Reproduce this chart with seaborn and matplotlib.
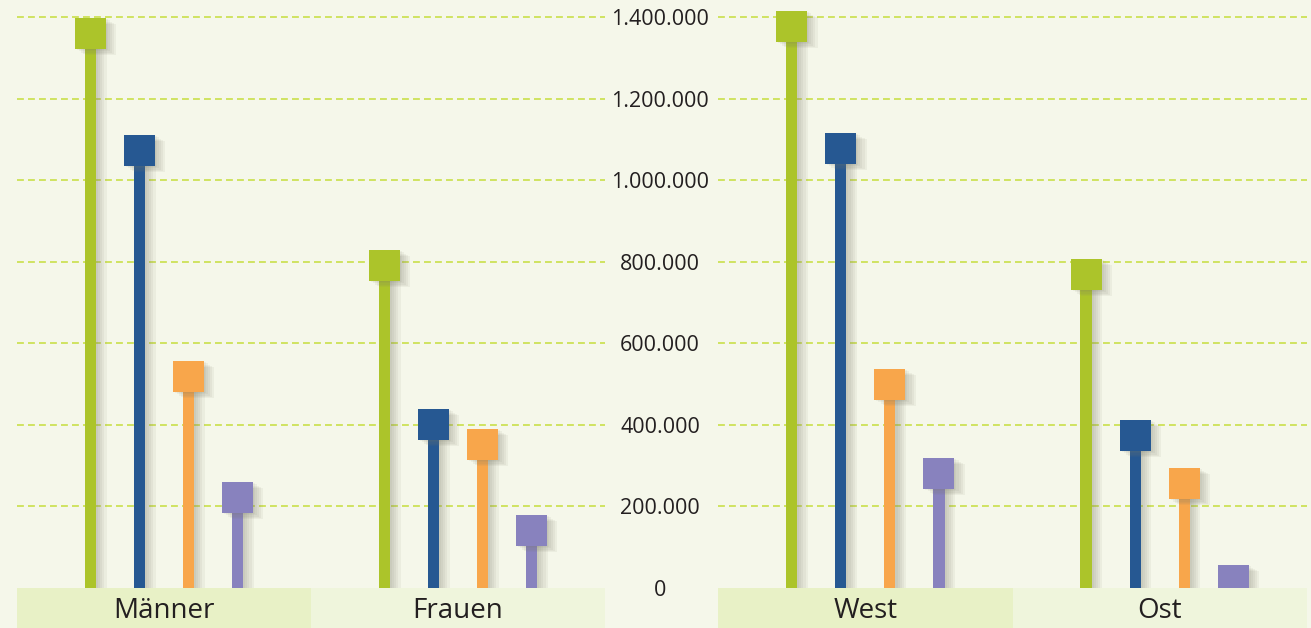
import matplotlib
matplotlib.use("Agg")
import matplotlib.pyplot as plt
import matplotlib.patheffects as pe
from matplotlib.path import Path
from matplotlib.patches import Rectangle
from matplotlib.ticker import FuncFormatter
import matplotlib.transforms as mtransforms
import pandas as pd
import seaborn as sns

# data
gruppen_links = ["Männer", "Frauen"]
gruppen_rechts = ["West", "Ost"]
reihen = ["Reihe 1", "Reihe 2", "Reihe 3", "Reihe 4"]
# values per series, order: Männer, Frauen, West, Ost
reihe_gruen = [1398000, 829000, 1415000, 807000]
reihe_blau = [1111000, 439000, 1116000, 412000]
reihe_orange = [557000, 390000, 537000, 294000]
reihe_lila = [260000, 179000, 319000, 56000]
y_ticks = [0, 200000, 400000, 600000, 800000, 1000000, 1200000, 1400000]

farben = ["#acc42a", "#265892", "#f8a64b", "#8882be"]
bg = "#f5f7ea"
box_farben = ["#e8f1c6", "#eff5dc"]
grid_farbe = "#c6dd3c"
text_farbe = "#231f20"

sns.set_style("white")
plt.rcParams["font.family"] = ["Open Sans", "DejaVu Sans"]

werte = [reihe_gruen, reihe_blau, reihe_orange, reihe_lila]
alle_gruppen = gruppen_links + gruppen_rechts
rows = []
for name, vals in zip(reihen, werte):
    for g, v in zip(alle_gruppen, vals):
        rows.append({"gruppe": g, "reihe": name, "wert": v})
df = pd.DataFrame(rows)

W, H = 1311, 628
fig = plt.figure(figsize=(W / 100, H / 100), dpi=100, facecolor=bg)
y0 = 588  # pixel row of the zero line
ymax = y0 * 1400000 / 571

ax_l = fig.add_axes([17 / W, (H - y0) / H, 588 / W, y0 / H])
ax_r = fig.add_axes([718 / W, (H - y0) / H, 589 / W, y0 / H])

square = Path([(-1, 0), (1, 0), (1, -2), (-1, -2), (-1, 0)],
              [Path.MOVETO, Path.LINETO, Path.LINETO, Path.LINETO, Path.CLOSEPOLY])
schatten = [pe.SimplePatchShadow(offset=(o, -o * 0.6), shadow_rgbFace="#7a7a6a", alpha=0.08)
            for o in (1.5, 3, 4.5, 6, 7.5)] + [pe.Normal()]

for ax, gruppen in ((ax_l, gruppen_links), (ax_r, gruppen_rechts)):
    ax.set_facecolor(bg)
    sub = df[df.gruppe.isin(gruppen)]
    sns.barplot(data=sub, x="gruppe", y="wert", hue="reihe", order=gruppen,
                hue_order=reihen, palette=farben, saturation=1, errorbar=None,
                width=0.667, gap=0.77, linewidth=0, legend=False, ax=ax, zorder=3)
    xs, ys, cs = [], [], []
    for p in ax.patches:
        p.set_path_effects(schatten)
        xs.append(p.get_x() + p.get_width() / 2)
        ys.append(p.get_height())
        cs.append(p.get_facecolor())
    sc = ax.scatter(xs, ys, s=1993, marker=square, c=cs, linewidths=0, zorder=4)
    sc.set_path_effects(schatten)

    ax.set_xlim(-0.5, 1.5)
    ax.set_ylim(0, ymax)
    ax.set_yticks(y_ticks)
    ax.grid(axis="y", color=grid_farbe, linewidth=1.1, linestyle=(0, (4.5, 2.7)), zorder=1)
    ax.yaxis.get_gridlines()[0].set_visible(False)
    ax.set_axisbelow(True)
    sns.despine(ax=ax, left=True, bottom=True)
    ax.set_xlabel("")
    ax.set_ylabel("")

    trans = mtransforms.blended_transform_factory(ax.transData, ax.transAxes)
    for i, g in enumerate(gruppen):
        ax.add_patch(Rectangle((i - 0.5, -40 / y0), 1, 40 / y0, transform=trans,
                               facecolor=box_farben[i], edgecolor="none", clip_on=False, zorder=0))
    ax.tick_params(axis="x", length=0, pad=6.5, labelsize=20, labelcolor=text_farbe)
    ax.tick_params(axis="y", length=0)

ax_l.set_yticklabels([])
ax_r.yaxis.set_major_formatter(FuncFormatter(lambda v, _: f"{v:,.0f}".replace(",", ".")))
ax_r.tick_params(axis="y", pad=41.8, labelsize=15.5, labelcolor=text_farbe)
plt.setp(ax_r.get_yticklabels(), ha="center")

fig.savefig("out.png", dpi=100, facecolor=bg)
